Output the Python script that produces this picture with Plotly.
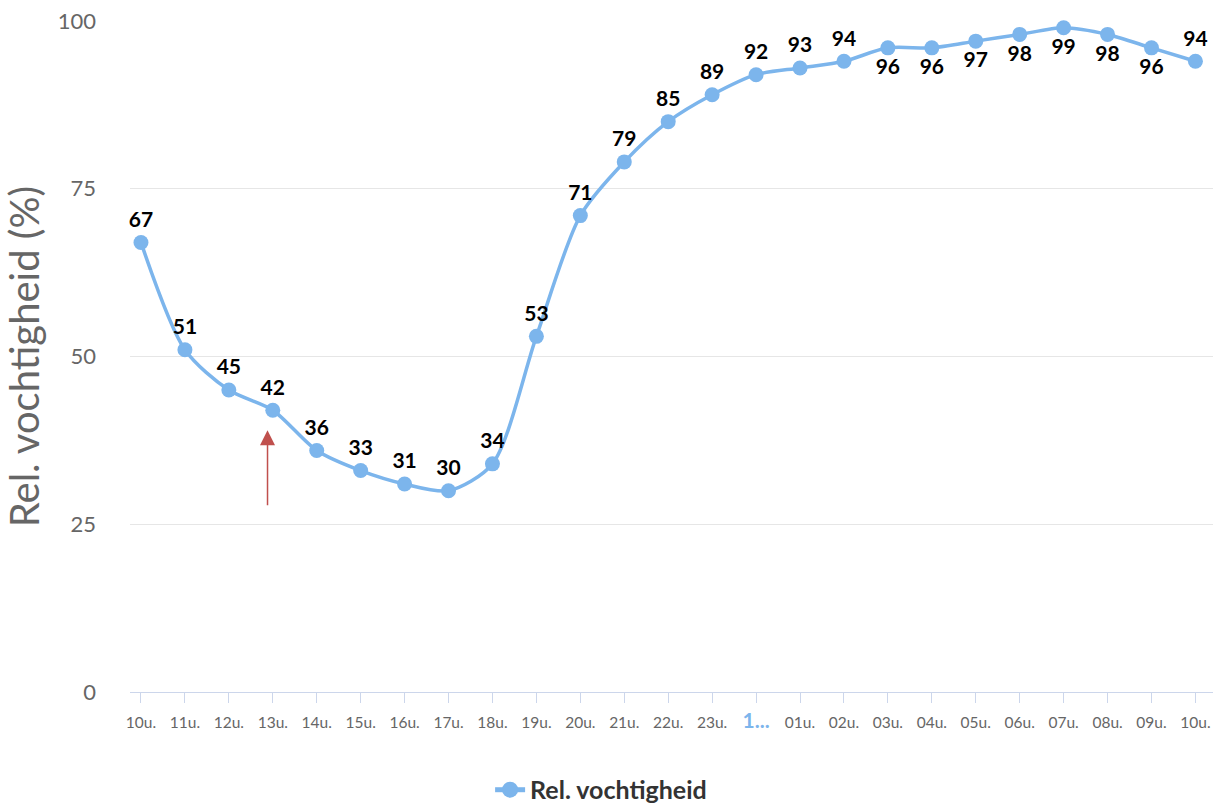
import plotly.graph_objects as go

# Hourly relative humidity over one day
hours = ["10u.", "11u.", "12u.", "13u.", "14u.", "15u.", "16u.", "17u.", "18u.",
         "19u.", "20u.", "21u.", "22u.", "23u.", "1...", "01u.", "02u.", "03u.",
         "04u.", "05u.", "06u.", "07u.", "08u.", "09u.", "10u."]
humidity = [67, 51, 45, 42, 36, 33, 31, 30, 34, 53, 71, 79, 85, 89, 92, 93, 94,
            96, 96, 97, 98, 99, 98, 96, 94]
y_ticks = [0, 25, 50, 75, 100]

BLUE = "#7cb5ec"
idx = list(range(len(hours)))
tick_text = [
    "<b><span style='color:%s;font-size:21px'>%s</span></b>" % (BLUE, h) if h == "1..." else h
    for h in hours
]
# labels that would run off the top go beneath their point
positions = ["bottom center" if v >= 95 and i < len(humidity) - 1 else "top center"
             for i, v in enumerate(humidity)]

fig = go.Figure()
fig.add_trace(go.Scatter(
    x=idx, y=humidity,
    mode="lines+markers+text",
    name="Rel. vochtigheid",
    showlegend=False,
    line=dict(color=BLUE, width=3.5, shape="spline", smoothing=0.8),
    marker=dict(color=BLUE, size=15),
    text=[str(v) for v in humidity],
    textposition=positions,
    textfont=dict(family="Lato", size=21, color="#000000", weight="bold"),
    cliponaxis=False,
))
# legend entry with a heavier symbol
fig.add_trace(go.Scatter(
    x=[None], y=[None], mode="lines+markers", name="Rel. vochtigheid",
    line=dict(color=BLUE, width=5), marker=dict(color=BLUE, size=16),
))

# red arrow pointing at the 13u. value
fig.add_annotation(
    x=2.88, y=39.0, ax=2.88, ay=27.6, xref="x", yref="y", axref="x", ayref="y",
    text="", showarrow=True, arrowhead=2, arrowsize=2.0, arrowwidth=1.5,
    arrowcolor="#c0504d",
)

fig.update_layout(
    width=1213, height=803,
    margin=dict(l=130, r=0, t=21, b=111, autoexpand=False),
    paper_bgcolor="white", plot_bgcolor="white",
    font=dict(family="Lato", color="#666666"),
    showlegend=True,
    legend=dict(
        orientation="h", x=0.435, xanchor="center", y=-0.146, yanchor="middle",
        font=dict(family="Lato", size=25, color="#333333", weight="bold"),
    ),
    xaxis=dict(
        range=[-0.25, 24.4],
        tickmode="array", tickvals=idx, ticktext=tick_text,
        ticks="outside", ticklen=10, tickcolor="#ccd6eb", tickwidth=1,
        showline=True, linecolor="#ccd6eb", linewidth=1,
        showgrid=False, zeroline=False,
        tickfont=dict(family="Lato", size=15.5, color="#666666"),
        ticklabelstandoff=6,
        ticklabeloverflow="allow",
        fixedrange=True,
    ),
    yaxis=dict(
        range=[0, 100],
        tickmode="array", tickvals=y_ticks,
        showgrid=True, gridcolor="#e6e6e6", gridwidth=1,
        zeroline=False, showline=False,
        tickfont=dict(family="Lato", size=22, color="#666666"),
        ticklabelstandoff=33,
        title=dict(text="Rel. vochtigheid (%)", standoff=12,
                   font=dict(family="Lato", size=40, color="#666666")),
    ),
)

fig.write_html("out.html")
